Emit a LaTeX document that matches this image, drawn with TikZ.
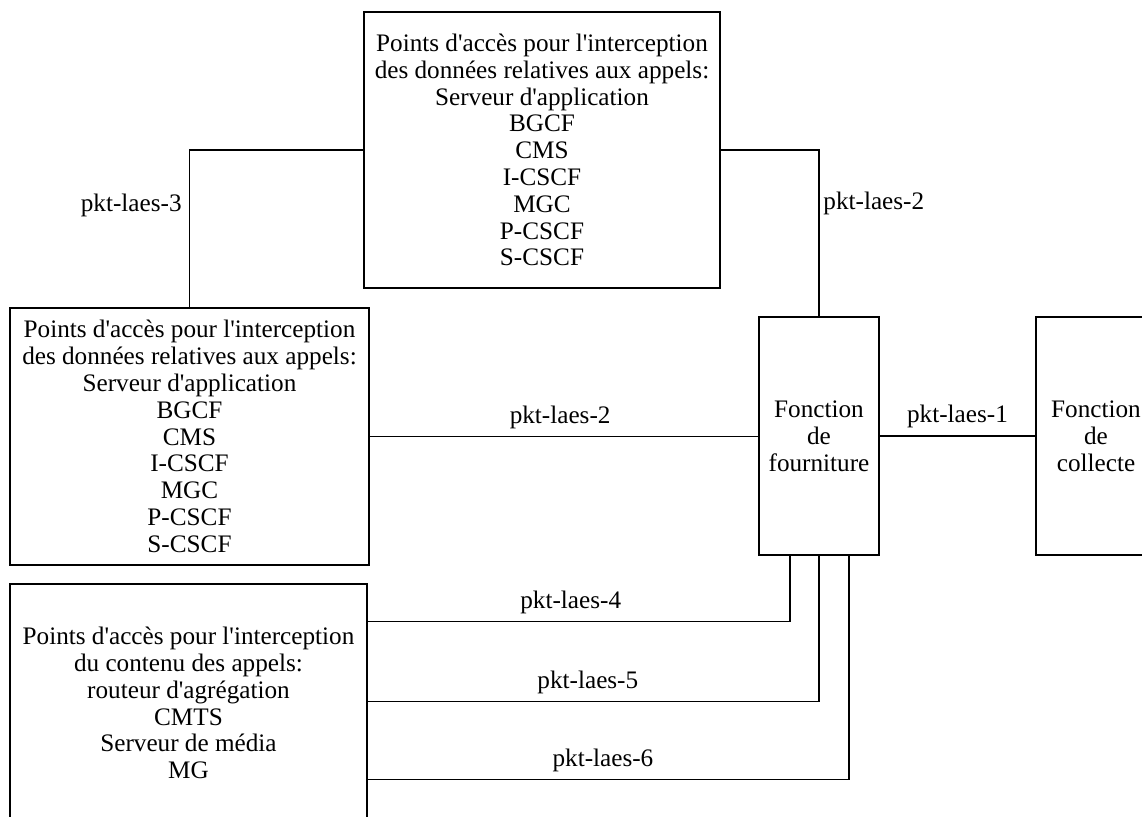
\documentclass[tikz,border=0pt]{standalone}
\usepackage{fontspec}
\setmainfont[Ligatures=TeXOff]{Liberation Serif}
\usetikzlibrary{calc}
\begin{document}
\begin{tikzpicture}[x=0.5pt,y=-0.5pt,
  font=\fontsize{12.6}{13.4}\selectfont,
  box/.style={draw, line width=1.4pt, align=center, inner sep=0pt},
  link/.style={line width=0.7pt},
  lbl/.style={inner sep=0pt}]
\useasboundingbox (0,0) rectangle (1142,816);
\clip (0,0) rectangle (1142,816);

% boxes
\node[box, minimum width=178pt, minimum height=138pt] (top) at (542,150)
  {Points d'accès pour l'interception\\des données relatives aux appels:\\Serveur d'application\\BGCF\\CMS\\I-CSCF\\MGC\\P-CSCF\\S-CSCF};
\node[box, minimum width=179.5pt, minimum height=128.5pt] (mid) at (189.5,436.5)
  {Points d'accès pour l'interception\\des données relatives aux appels:\\Serveur d'application\\BGCF\\CMS\\I-CSCF\\MGC\\P-CSCF\\S-CSCF};
\node[box, minimum width=178.5pt, minimum height=119pt] (bot) at (188.5,703)
  {Points d'accès pour l'interception\\du contenu des appels:\\routeur d'agrégation\\CMTS\\Serveur de média\\MG};
\node[box, minimum width=60pt, minimum height=119pt] (fourn) at (819,436)
  {Fonction\\de\\fourniture};
\node[box, minimum width=60pt, minimum height=119pt] (coll) at (1096,436)
  {Fonction\\de\\collecte};

% connectors
\draw[link] (top.west) -| (mid.north);
\draw[link] (top.east) -| (fourn.north);
\node[lbl, anchor=east] (l3) at (182,205) {pkt-laes-3};
\node[lbl, anchor=west] (l2a) at (823,203) {pkt-laes-2};

\draw[link] (mid.east) -- node[lbl, above=3.5pt, pos=0.49] (l2b) {pkt-laes-2} (mid.east -| fourn.west);
\draw[link] (fourn.east) -- node[lbl, above=3.5pt, pos=0.5] (l1) {pkt-laes-1} (coll.west);

\coordinate (p4) at ($(fourn.south)+(-29,0)$);
\coordinate (p5) at (fourn.south);
\coordinate (p6) at ($(fourn.south)+(30,0)$);
\path (bot.north east) ++(0,39) coordinate (b4) ++(0,80) coordinate (b5) ++(0,78) coordinate (b6);
\draw[link] (b4) -- node[lbl, above=3.5pt, pos=0.48] (l4) {pkt-laes-4} (b4 -| p4) -- (p4);
\draw[link] (b5) -- node[lbl, above=3.5pt, pos=0.487] (l5) {pkt-laes-5} (b5 -| p5) -- (p5);
\draw[link] (b6) -- node[lbl, above=3.5pt, pos=0.488] (l6) {pkt-laes-6} (b6 -| p6) -- (p6);
\end{tikzpicture}
\end{document}
